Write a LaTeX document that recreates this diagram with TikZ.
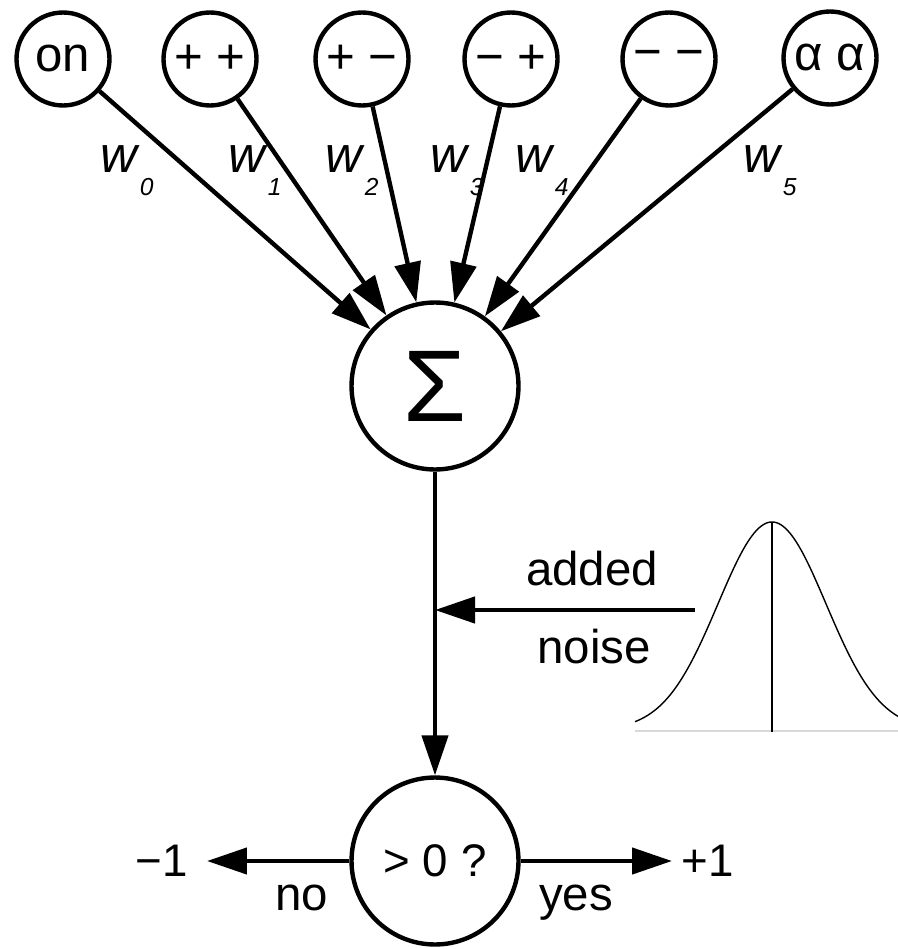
\documentclass[tikz,border=0pt]{standalone}
\usepackage{fontspec}
\setmainfont{Liberation Sans}
\usetikzlibrary{arrows.meta}

\newcommand{\wsub}[1]{\textit{w}\raisebox{-0.46cm}{\fontsize{14}{16}\selectfont\itshape #1}}

\begin{document}
\begin{tikzpicture}[x=0.02cm, y=-0.02cm,
    unit/.style={circle, draw, line width=2.5pt, minimum size=1.86cm, inner sep=0pt, font=\fontsize{28}{32}\selectfont},
    bigunit/.style={unit, minimum size=3.34cm},
    arr/.style={line width=2.5pt, -{Triangle[length=0.8cm,width=0.52cm]}},
    lbl/.style={inner sep=0pt, font=\fontsize{27}{32}\selectfont},
    wlbl/.style={inner sep=0pt, anchor=base west, font=\fontsize{29}{32}\selectfont}]
        \useasboundingbox (0,0) rectangle (898,949);

        % input units
        \node[unit] (on) at (63,59) {on};
        \node[unit] (pp) at (210,59) {+ +};
        \node[unit] (pm) at (362,59) {+ −};
        \node[unit] (mp) at (511,59) {− +};
        \node[unit] (mm) at (669,59) {− −};
        \node[unit] (aa) at (830,58) {α α};

        % summation and threshold
        \node[bigunit, font=\fontsize{58}{64}\selectfont] (sigma) at (435,386) {Σ};
        \node[bigunit, font=\fontsize{26}{30}\selectfont] (test) at (435,861) {> 0 ?};

        % weighted inputs
        \draw[arr] (on) -- (sigma);
        \draw[arr] (pp) -- (sigma);
        \draw[arr] (pm) -- (sigma);
        \draw[arr] (mp) -- (sigma);
        \draw[arr] (mm) -- (sigma);
        \draw[arr] (aa) -- (sigma);

        \node[wlbl] (w0) at (100,173) {\wsub{0}};
        \node[wlbl] (w1) at (228,173) {\wsub{1}};
        \node[wlbl] (w2) at (325,173) {\wsub{2}};
        \node[wlbl] (w3) at (430,173) {\wsub{3}};
        \node[wlbl] (w4) at (515,173) {\wsub{4}};
        \node[wlbl] (w5) at (743,173) {\wsub{5}};

        % sum to threshold, with noise
        \draw[arr] (sigma) -- (test);
        \coordinate (noisein) at (695,610);
        \coordinate (noisejoin) at (435,610);
        \draw[arr] (noisein) -- (noisejoin);
        \node[lbl, anchor=base] (added) at (592,585) {added};
        \node[lbl, anchor=base] (noise) at (594,663) {noise};

        % noise distribution
        \draw[black!15, line width=0.6pt] (635,731) -- (898,731);
        \draw[line width=0.8pt] (772,522) -- (772,732);
        \draw[line width=0.8pt] plot[domain=-137:126, samples=120, smooth] ({772+\x}, {730-208*exp(-((\x/54)^2)/2)});

        % outputs
        \coordinate (noend) at (207,861);
        \coordinate (yesend) at (672,861);
        \draw[arr] (test.west) -- (noend);
        \draw[arr] (test.east) -- (yesend);
        \node[lbl, font=\fontsize{26}{30}\selectfont] (minus) at (162,861) {−1};
        \node[lbl, font=\fontsize{26}{30}\selectfont] (plus) at (708,861) {+1};
        \node[lbl, anchor=base] (no) at (302,910) {no};
        \node[lbl, anchor=base] (yes) at (576,910) {yes};
\end{tikzpicture}
\end{document}
